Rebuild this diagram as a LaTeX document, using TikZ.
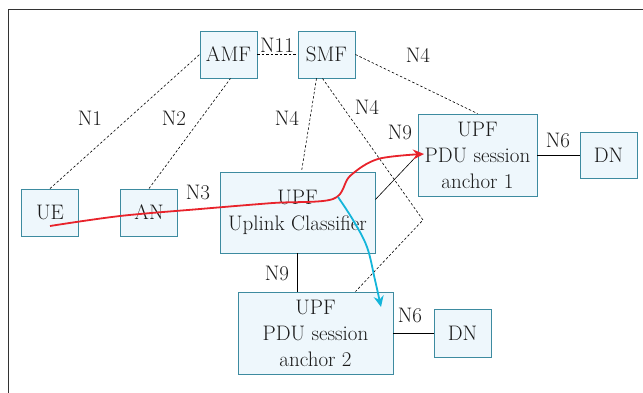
\documentclass[tikz,border=0pt]{standalone}
\usetikzlibrary{arrows.meta}
\definecolor{boxfill}{HTML}{EEF7FC}
\definecolor{boxline}{HTML}{3D8BA0}
\definecolor{flowred}{HTML}{E8232B}
\definecolor{flowblue}{HTML}{14B5DA}
\definecolor{txt}{HTML}{1A1A1A}
\newcommand\nffont{\fontsize{21}{26}\selectfont}
\begin{document}
\begin{tikzpicture}[x=1pt,y=-1pt,
  nf/.style={draw=boxline, fill=boxfill, line width=0.9pt, inner sep=0pt,
             align=center, font=\nffont, text=txt},
  small/.style={nf, minimum width=57pt, minimum height=47pt},
  upf/.style={nf, minimum width=155pt, minimum height=82pt},
  lbl/.style={font=\nffont, text=txt, inner sep=1pt},
  ctl/.style={dash pattern=on 2.5pt off 2pt, line width=0.6pt},
  usr/.style={line width=0.6pt},
  n3link/.style={double=white, double distance=0.8pt, line width=0.5pt, draw=black!70},
  flow/.style={line width=1.8pt, -{Stealth[length=11pt,width=10pt]}},
]
\useasboundingbox (0,0) rectangle (643,393);
% frame
\draw[line width=1.3pt, black!80] (8.5,393) -- (8.5,9.5) -- (643,9.5);

% network functions
\node[small] (amf) at (228.5,54.5) {AMF};
\node[small] (smf) at (326.5,54.5) {SMF};
\node[small] (ue)  at (50,212.5) {UE};
\node[small] (an)  at (149,212.5) {AN};
\node[upf, minimum height=81pt] (uc) at (297.5,212.5) {UPF\\Uplink Classifier};
\node[nf, minimum width=119pt, minimum height=82pt] (a1) at (477.5,155) {UPF\\PDU session\\anchor 1};
\node[small, minimum height=46pt] (dn1) at (608.5,155) {DN};
\node[upf] (a2) at (315.5,333) {UPF\\PDU session\\anchor 2};
\node[small, minimum height=48pt] (dn2) at (462.5,333) {DN};

\coordinate (bend) at (423,220);

% control plane
\draw[ctl] (amf.east) -- (smf.west);
\draw[ctl] (ue.north) -- (amf.west);
\draw[ctl] (an.north) -- ([xshift=2pt]amf.south);
\draw[ctl] ([xshift=-10pt]smf.south) -- ([xshift=4pt]uc.north);
\draw[ctl] ([xshift=-4pt]smf.south) -- (bend) -- ([xshift=40pt]a2.north);
\draw[ctl] (smf.east) -- (a1.north);

% user plane
\draw[n3link] (ue.east) -- (an.west);
\draw[n3link] (an.east) -- (uc.west);
\draw[usr] (uc.south) -- (uc.south |- a2.north);
\draw[usr] ([yshift=13pt]uc.east) -- (a1.west);
\draw[usr] (a1.east) -- (dn1.west);
\draw[usr] (a2.east) -- (dn2.west);

% interface labels
\node[lbl] (l11) at (277,45) {N11};
\node[lbl] (l4a) at (418,55) {N4};
\node[lbl] (l1)  at (90,118) {N1};
\node[lbl] (l2)  at (174,118) {N2};
\node[lbl] (l4b) at (287,118) {N4};
\node[lbl] (l4c) at (367,107) {N4};
\node[lbl] (l9a) at (400,132) {N9};
\node[lbl] (l3)  at (198,192) {N3};
\node[lbl] (l6a) at (558,140) {N6};
\node[lbl] (l9b) at (277,273) {N9};
\node[lbl] (l6b) at (410,315) {N6};

% traffic flows
\draw[flow, flowred] plot[smooth, tension=0.55] coordinates
  {(50,226) (120,216) (200,209) (273,203) (333,199) (350,176) (378,159) (424,154)};
\draw[flow, flowblue] plot[smooth, tension=0.6] coordinates
  {(338,197) (353,220) (367,247) (375,280) (381,307)};
\end{tikzpicture}
\end{document}
